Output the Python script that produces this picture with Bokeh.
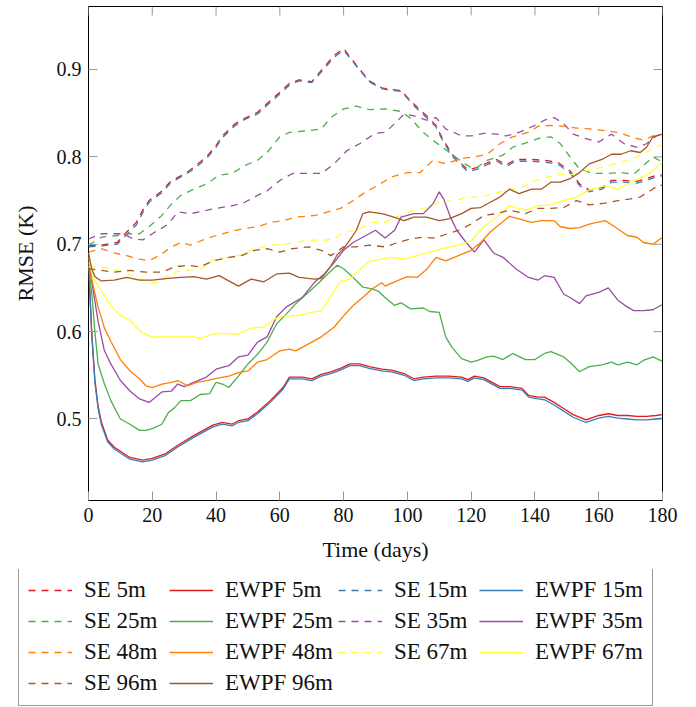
import math
from bokeh.plotting import figure
from bokeh.models import Range1d, FixedTicker, Legend, LegendItem
from bokeh.embed import file_html
from bokeh.resources import INLINE

# ---------------- data ----------------
x_ticks = [0, 20, 40, 60, 80, 100, 120, 140, 160, 180]
y_ticks = [0.5, 0.6, 0.7, 0.8, 0.9]

se5_t = [0, 4, 9, 12, 15, 17, 19, 23, 26, 30, 33, 37, 40, 42, 46, 49, 53, 56, 60, 63, 66, 70, 73, 77, 80, 84, 88, 92, 95, 98, 100, 103, 106, 109, 111, 114, 117, 119, 122, 125, 128, 131, 134, 139, 143, 147, 151, 154, 157, 161, 164, 168, 172, 175, 178, 180]
se5_v = [0.698, 0.699, 0.702, 0.714, 0.725, 0.739, 0.750, 0.761, 0.773, 0.780, 0.788, 0.800, 0.813, 0.824, 0.838, 0.844, 0.851, 0.861, 0.874, 0.884, 0.888, 0.886, 0.899, 0.916, 0.924, 0.905, 0.887, 0.879, 0.877, 0.876, 0.868, 0.857, 0.847, 0.836, 0.821, 0.803, 0.792, 0.785, 0.788, 0.793, 0.797, 0.791, 0.797, 0.797, 0.796, 0.794, 0.784, 0.769, 0.762, 0.765, 0.773, 0.773, 0.772, 0.775, 0.779, 0.779]
se15_t = se5_t
se15_v = [0.697, 0.698, 0.700, 0.711, 0.722, 0.736, 0.748, 0.759, 0.771, 0.779, 0.786, 0.798, 0.811, 0.822, 0.836, 0.843, 0.849, 0.859, 0.872, 0.882, 0.887, 0.885, 0.897, 0.914, 0.922, 0.904, 0.886, 0.878, 0.876, 0.875, 0.867, 0.855, 0.845, 0.834, 0.819, 0.801, 0.790, 0.783, 0.786, 0.791, 0.795, 0.789, 0.795, 0.795, 0.794, 0.792, 0.782, 0.767, 0.760, 0.763, 0.771, 0.771, 0.770, 0.773, 0.777, 0.778]

se25_t = [0, 4, 9, 12, 16, 19, 23, 26, 29, 33, 37, 41, 45, 49, 53, 56, 60, 63, 69, 73, 76, 80, 84, 88, 93, 98, 101, 105, 108, 111, 115, 118, 121, 125, 130, 133, 138, 141, 145, 148, 151, 154, 158, 163, 167, 171, 174, 177, 180]
se25_v = [0.699, 0.708, 0.710, 0.712, 0.712, 0.720, 0.733, 0.746, 0.756, 0.763, 0.769, 0.779, 0.781, 0.790, 0.796, 0.805, 0.823, 0.828, 0.830, 0.832, 0.845, 0.855, 0.858, 0.854, 0.855, 0.852, 0.844, 0.828, 0.819, 0.811, 0.800, 0.792, 0.786, 0.796, 0.802, 0.811, 0.817, 0.821, 0.823, 0.815, 0.800, 0.786, 0.781, 0.781, 0.782, 0.780, 0.790, 0.800, 0.794]

se35_t = [0, 4, 8, 11, 14, 17, 20, 25, 28, 32, 36, 40, 45, 49, 53, 56, 60, 64, 69, 73, 77, 81, 85, 90, 93, 96, 99, 102, 106, 109, 112, 117, 120, 124, 128, 131, 135, 140, 143, 146, 149, 152, 156, 160, 164, 168, 172, 175, 178, 180]
se35_v = [0.706, 0.712, 0.712, 0.712, 0.706, 0.705, 0.712, 0.723, 0.737, 0.735, 0.738, 0.741, 0.744, 0.748, 0.756, 0.761, 0.773, 0.781, 0.781, 0.781, 0.792, 0.807, 0.815, 0.827, 0.828, 0.838, 0.849, 0.847, 0.842, 0.845, 0.832, 0.824, 0.824, 0.827, 0.826, 0.824, 0.828, 0.836, 0.842, 0.845, 0.838, 0.826, 0.821, 0.817, 0.826, 0.815, 0.811, 0.815, 0.824, 0.826]

se48_t = [0, 4, 8, 12, 16, 19, 23, 26, 29, 32, 36, 40, 45, 49, 53, 57, 61, 65, 71, 75, 79, 83, 87, 91, 95, 100, 104, 108, 112, 117, 121, 125, 129, 133, 138, 141, 145, 149, 153, 157, 162, 166, 170, 174, 177, 180]
se48_v = [0.691, 0.695, 0.690, 0.687, 0.683, 0.681, 0.689, 0.697, 0.702, 0.699, 0.705, 0.710, 0.715, 0.718, 0.720, 0.725, 0.727, 0.731, 0.733, 0.737, 0.741, 0.750, 0.760, 0.768, 0.777, 0.782, 0.782, 0.796, 0.792, 0.798, 0.800, 0.803, 0.815, 0.823, 0.828, 0.835, 0.836, 0.835, 0.833, 0.832, 0.830, 0.828, 0.823, 0.819, 0.824, 0.826]

se67_t = [0, 4, 9, 15, 19, 22, 25, 29, 35, 39, 44, 48, 52, 57, 62, 69, 73, 77, 80, 84, 89, 93, 99, 102, 106, 110, 115, 119, 123, 127, 131, 136, 140, 144, 148, 152, 156, 161, 165, 169, 173, 177, 180]
se67_v = [0.674, 0.674, 0.670, 0.662, 0.656, 0.656, 0.665, 0.670, 0.671, 0.682, 0.685, 0.688, 0.695, 0.699, 0.700, 0.705, 0.704, 0.706, 0.714, 0.716, 0.725, 0.725, 0.735, 0.739, 0.742, 0.748, 0.750, 0.754, 0.754, 0.758, 0.762, 0.765, 0.773, 0.777, 0.780, 0.780, 0.784, 0.788, 0.792, 0.796, 0.802, 0.809, 0.815]

se96_t = [0, 4, 8, 13, 18, 23, 27, 31, 35, 39, 44, 48, 52, 56, 60, 64, 69, 73, 76, 80, 84, 88, 93, 97, 101, 105, 108, 111, 116, 120, 124, 128, 132, 137, 141, 145, 149, 153, 157, 162, 166, 170, 173, 176, 179, 180]
se96_v = [0.672, 0.670, 0.668, 0.670, 0.668, 0.668, 0.674, 0.676, 0.674, 0.681, 0.685, 0.687, 0.693, 0.695, 0.691, 0.695, 0.697, 0.693, 0.687, 0.697, 0.697, 0.699, 0.697, 0.702, 0.706, 0.708, 0.707, 0.710, 0.716, 0.723, 0.733, 0.735, 0.739, 0.735, 0.741, 0.741, 0.742, 0.750, 0.745, 0.747, 0.750, 0.752, 0.754, 0.761, 0.768, 0.767]

ew5_t = [0, 1, 2, 3, 4, 6, 8, 10, 13, 17, 20, 24, 28, 33, 39, 42, 45, 47, 50, 53, 57, 61, 63, 67, 70, 73, 76, 79, 82, 85, 88, 92, 95, 99, 102, 105, 109, 113, 117, 119, 121, 124, 129, 132, 136, 138, 141, 143, 146, 149, 152, 156, 160, 163, 166, 169, 172, 175, 178, 180]
ew5_v = [0.680, 0.600, 0.545, 0.515, 0.497, 0.476, 0.468, 0.463, 0.456, 0.453, 0.455, 0.460, 0.470, 0.481, 0.493, 0.496, 0.494, 0.498, 0.500, 0.508, 0.521, 0.536, 0.548, 0.548, 0.546, 0.551, 0.554, 0.558, 0.563, 0.563, 0.560, 0.557, 0.556, 0.552, 0.546, 0.548, 0.549, 0.549, 0.548, 0.545, 0.549, 0.547, 0.537, 0.537, 0.535, 0.527, 0.525, 0.525, 0.519, 0.512, 0.505, 0.499, 0.504, 0.506, 0.504, 0.504, 0.503, 0.503, 0.504, 0.505]
ew15_t = ew5_t
ew15_v = [0.680, 0.598, 0.542, 0.512, 0.494, 0.474, 0.466, 0.461, 0.454, 0.451, 0.453, 0.458, 0.468, 0.479, 0.491, 0.494, 0.492, 0.496, 0.498, 0.506, 0.519, 0.534, 0.546, 0.546, 0.544, 0.549, 0.552, 0.556, 0.561, 0.561, 0.558, 0.555, 0.554, 0.550, 0.544, 0.546, 0.547, 0.547, 0.546, 0.543, 0.547, 0.545, 0.535, 0.535, 0.533, 0.525, 0.523, 0.522, 0.516, 0.509, 0.502, 0.496, 0.501, 0.503, 0.501, 0.500, 0.499, 0.499, 0.500, 0.501]

ew25_t = [0, 1, 2, 3, 5, 7, 10, 13, 16, 18, 20, 23, 25, 27, 29, 32, 35, 38, 40, 42, 44, 47, 50, 53, 56, 59, 62, 65, 69, 72, 75, 78, 80, 83, 86, 89, 91, 93, 96, 98, 101, 105, 107, 110, 112, 114, 117, 120, 122, 125, 127, 130, 133, 137, 140, 143, 145, 149, 151, 154, 157, 161, 164, 166, 169, 172, 174, 177, 180]
ew25_v = [0.675, 0.645, 0.600, 0.563, 0.540, 0.521, 0.500, 0.494, 0.487, 0.487, 0.489, 0.494, 0.507, 0.513, 0.521, 0.521, 0.528, 0.529, 0.542, 0.540, 0.536, 0.549, 0.563, 0.574, 0.588, 0.609, 0.620, 0.632, 0.645, 0.655, 0.666, 0.676, 0.672, 0.662, 0.651, 0.649, 0.646, 0.639, 0.630, 0.633, 0.626, 0.627, 0.623, 0.622, 0.594, 0.582, 0.569, 0.565, 0.567, 0.571, 0.572, 0.568, 0.575, 0.568, 0.568, 0.575, 0.577, 0.571, 0.565, 0.554, 0.560, 0.562, 0.565, 0.562, 0.565, 0.562, 0.567, 0.571, 0.566]

ew35_t = [0, 1, 3, 5, 7, 10, 13, 16, 19, 21, 23, 26, 28, 30, 33, 37, 40, 44, 47, 50, 53, 56, 59, 62, 67, 71, 74, 77, 80, 83, 87, 90, 93, 96, 98, 102, 105, 108, 110, 111.5, 113.5, 115.5, 118, 121, 124, 127, 130, 134, 138, 141, 143, 146, 149, 151, 154, 156, 160, 163, 166, 169, 171, 174, 177, 180]
ew35_v = [0.680, 0.658, 0.612, 0.578, 0.563, 0.544, 0.532, 0.523, 0.519, 0.525, 0.531, 0.532, 0.540, 0.537, 0.542, 0.548, 0.557, 0.561, 0.571, 0.573, 0.588, 0.594, 0.617, 0.628, 0.639, 0.657, 0.666, 0.679, 0.693, 0.702, 0.710, 0.716, 0.707, 0.716, 0.731, 0.735, 0.735, 0.746, 0.760, 0.751, 0.731, 0.716, 0.704, 0.691, 0.705, 0.690, 0.685, 0.672, 0.662, 0.659, 0.664, 0.662, 0.643, 0.639, 0.632, 0.641, 0.645, 0.650, 0.636, 0.628, 0.624, 0.624, 0.625, 0.631]

ew48_t = [0, 1, 3, 5, 7, 10, 13, 16, 18, 20, 23, 26, 28, 31, 34, 37, 41, 44, 47, 50, 53, 56, 60, 63, 65, 70, 73, 77, 80, 83, 86, 89, 92, 93, 96, 100, 103, 106, 109, 112, 116, 120, 123, 126, 128, 132, 135, 139, 142, 146, 148, 151, 154, 157, 162, 165, 169, 172, 174, 177, 180]
ew48_v = [0.690, 0.660, 0.628, 0.604, 0.589, 0.568, 0.555, 0.546, 0.538, 0.536, 0.540, 0.542, 0.544, 0.538, 0.542, 0.544, 0.547, 0.549, 0.553, 0.555, 0.565, 0.568, 0.578, 0.580, 0.578, 0.588, 0.594, 0.605, 0.618, 0.630, 0.639, 0.649, 0.656, 0.652, 0.657, 0.663, 0.662, 0.671, 0.685, 0.681, 0.687, 0.693, 0.702, 0.714, 0.720, 0.732, 0.729, 0.725, 0.727, 0.727, 0.720, 0.718, 0.719, 0.723, 0.727, 0.720, 0.710, 0.708, 0.702, 0.700, 0.708]

ew67_t = [0, 1, 2, 4, 7, 10, 13, 15, 17, 20, 25, 29, 33, 35, 39, 42, 47, 51, 55, 58, 61, 65, 70, 73, 76, 79, 82, 85, 88, 92, 95, 99, 103, 107, 111, 116, 120, 124, 128, 132, 137, 141, 145, 149, 153, 157, 162, 166, 170, 174, 177, 180]
ew67_v = [0.685, 0.668, 0.658, 0.647, 0.630, 0.618, 0.613, 0.605, 0.598, 0.594, 0.594, 0.594, 0.594, 0.592, 0.597, 0.598, 0.597, 0.604, 0.605, 0.614, 0.618, 0.618, 0.622, 0.624, 0.641, 0.657, 0.660, 0.671, 0.680, 0.683, 0.685, 0.683, 0.687, 0.691, 0.695, 0.699, 0.704, 0.720, 0.731, 0.744, 0.739, 0.744, 0.745, 0.750, 0.754, 0.762, 0.767, 0.763, 0.771, 0.777, 0.784, 0.794]

ew96_t = [0, 1, 2, 4, 8, 12, 16, 20, 25, 29, 33, 37, 41, 44, 47, 51, 55, 59, 63, 66, 71, 73, 76, 78, 80, 82, 84, 86, 88, 92, 95, 99, 102, 106, 110, 113, 117, 120, 123, 126, 129, 132, 135, 139, 142, 145, 148, 151, 154, 157, 161, 164, 167, 170, 173, 175, 177, 180]
ew96_v = [0.690, 0.672, 0.663, 0.658, 0.659, 0.662, 0.659, 0.659, 0.661, 0.662, 0.663, 0.660, 0.664, 0.658, 0.652, 0.660, 0.657, 0.666, 0.667, 0.662, 0.660, 0.661, 0.675, 0.688, 0.695, 0.705, 0.716, 0.735, 0.737, 0.735, 0.732, 0.727, 0.731, 0.731, 0.727, 0.729, 0.735, 0.741, 0.742, 0.748, 0.754, 0.763, 0.758, 0.763, 0.763, 0.771, 0.771, 0.775, 0.782, 0.792, 0.797, 0.803, 0.803, 0.807, 0.805, 0.811, 0.823, 0.826]

labels = ["SE 5m", "EWPF 5m", "SE 15m", "EWPF 15m", "SE 25m", "EWPF 25m", "SE 35m", "EWPF 35m",
          "SE 48m", "EWPF 48m", "SE 67m", "EWPF 67m", "SE 96m", "EWPF 96m"]
series_t = [se5_t, ew5_t, se15_t, ew15_t, se25_t, ew25_t, se35_t, ew35_t,
            se48_t, ew48_t, se67_t, ew67_t, se96_t, ew96_t]
series_v = [se5_v, ew5_v, se15_v, ew15_v, se25_v, ew25_v, se35_v, ew35_v,
            se48_v, ew48_v, se67_v, ew67_v, se96_v, ew96_v]
depth_colors = ["#E41A1C", "#377EB8", "#4DAF4A", "#984EA3", "#FF7F00", "#FFFF33", "#A65628"]

X_MIN, X_MAX = 0, 180
Y_MIN, Y_MAX = 0.4067, 0.9721

SERIF = "Liberation Serif"
TICK_COLOR = "#999999"
TICK_LEN = 9
LINE_W = 1.3
DASH = "7 6"

# ---------------- main plot ----------------
p = figure(width=690, height=569, output_backend="svg", toolbar_location=None,
           x_range=Range1d(X_MIN, X_MAX), y_range=Range1d(Y_MIN, Y_MAX),
           min_border_left=88, min_border_right=28, min_border_top=6, min_border_bottom=69,
           x_axis_label="Time (days)", y_axis_label="RMSE (K)")
p.xgrid.visible = False
p.ygrid.visible = False
p.outline_line_color = "black"
p.outline_line_width = 1
p.outline_line_alpha = 1.0
p.background_fill_color = "white"
p.border_fill_color = "white"

for ax, ticks in ((p.xaxis[0], x_ticks), (p.yaxis[0], y_ticks)):
    ax.ticker = FixedTicker(ticks=ticks)
    ax.axis_line_color = None
    ax.major_tick_in = TICK_LEN
    ax.major_tick_out = 0
    ax.major_tick_line_color = TICK_COLOR
    ax.major_tick_line_width = 1
    ax.minor_tick_line_color = None
    ax.major_label_text_font = SERIF
    ax.major_label_text_font_size = "20px"
    ax.major_label_text_color = "#111111"
    ax.major_label_standoff = 7
    ax.axis_label_text_font = SERIF
    ax.axis_label_text_font_size = "22px"
    ax.axis_label_text_font_style = "normal"
    ax.axis_label_text_color = "#111111"
p.xaxis[0].axis_label_standoff = 12
p.yaxis[0].axis_label_standoff = 16

# mirrored inward ticks on the top and right edges of the frame
p.ray(x=x_ticks, y=[Y_MAX] * len(x_ticks), length=TICK_LEN, length_units="screen",
      angle=-math.pi / 2, line_color=TICK_COLOR, line_width=1)
p.ray(x=[X_MAX] * len(y_ticks), y=y_ticks, length=TICK_LEN, length_units="screen",
      angle=math.pi, line_color=TICK_COLOR, line_width=1)

for i, (t, v) in enumerate(zip(series_t, series_v)):
    col = depth_colors[i // 2]
    dash = DASH if i % 2 == 0 else "solid"
    p.line(t, v, line_color=col, line_width=LINE_W, line_dash=dash)

# ---------------- legend panel (a separate root, so its frame is not aligned) ----------------
lg = figure(width=690, height=138, output_backend="svg", toolbar_location=None,
            x_range=Range1d(X_MIN, X_MAX), y_range=Range1d(Y_MIN, Y_MAX),
            x_axis_location=None, y_axis_location=None,
            min_border=0, min_border_left=0, min_border_right=0,
            min_border_top=0, min_border_bottom=0)
lg.xgrid.visible = False
lg.ygrid.visible = False
lg.outline_line_color = None
lg.background_fill_color = "white"
lg.border_fill_color = "white"

items = []
for i, (lab, t, v) in enumerate(zip(labels, series_t, series_v)):
    col = depth_colors[i // 2]
    dash = DASH if i % 2 == 0 else "solid"
    # a single point of each series: draws no line here, only feeds the legend sample
    r = lg.line(x=t[:1], y=v[:1], line_color=col, line_width=LINE_W, line_dash=dash)
    items.append(LegendItem(label=lab, renderers=[r]))

legend = Legend(items=items, location=(18, 1), orientation="horizontal", ncols=4,
                glyph_width=44, glyph_height=24, label_height=24, label_width=80,
                label_standoff=12, spacing=5, padding=9, margin=0,
                label_text_font=SERIF, label_text_font_size="23px", label_text_color="#111111",
                label_text_baseline="middle",
                border_line_color="#333333", border_line_width=1,
                background_fill_color="white", background_fill_alpha=1.0)
lg.add_layout(legend)

open("out.html", "w").write(file_html([p, lg], INLINE))
